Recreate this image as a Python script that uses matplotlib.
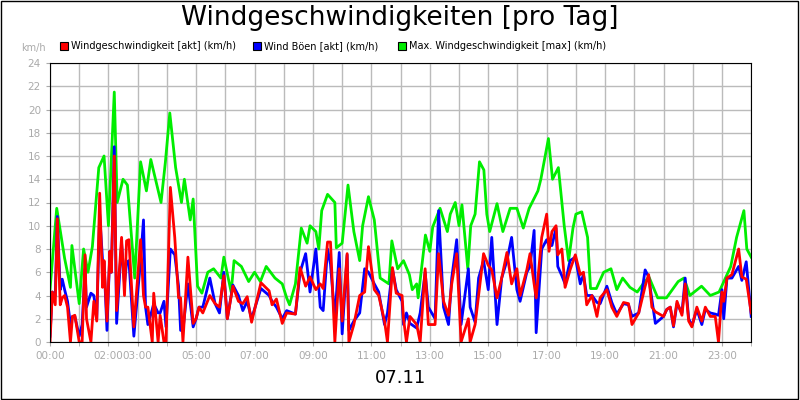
import matplotlib
matplotlib.use("Agg")
import matplotlib.pyplot as plt
from matplotlib.patches import Rectangle

# hours of day, max wind (green)
max_hours = [0.0, 0.23, 0.5, 0.7, 0.75, 1.0, 1.15, 1.3, 1.45, 1.67, 1.85, 2.0, 2.2, 2.3, 2.5, 2.65,
             2.9, 3.1, 3.3, 3.45, 3.8, 3.95, 4.1, 4.3, 4.5, 4.6, 4.8, 4.9, 5.05, 5.2, 5.4, 5.6,
             5.85, 5.95, 6.2, 6.3, 6.55, 6.8, 7.0, 7.2, 7.4, 7.7, 7.95, 8.1, 8.2, 8.4, 8.6, 8.8,
             8.9, 9.1, 9.2, 9.3, 9.5, 9.75, 9.8, 10.0, 10.2, 10.4, 10.6, 10.7, 10.9, 11.1, 11.2,
             11.3, 11.6, 11.7, 11.9, 12.1, 12.3, 12.4, 12.55, 12.6, 12.85, 13.0, 13.1, 13.35,
             13.6, 13.7, 13.87, 14.0, 14.1, 14.3, 14.4, 14.55, 14.7, 14.85, 14.95, 15.05, 15.3,
             15.5, 15.75, 15.98, 16.2, 16.4, 16.7, 16.8, 17.06, 17.2, 17.4, 17.6, 17.75, 17.9,
             18.0, 18.2, 18.4, 18.5, 18.7, 18.95, 19.2, 19.4, 19.6, 19.85, 20.1, 20.3, 20.5,
             20.8, 21.1, 21.5, 21.7, 21.9, 22.3, 22.6, 22.9, 23.3, 23.5, 23.75, 23.85, 24.0]
max_wind = [4.5, 11.5, 7.2, 4.7, 8.3, 3.3, 8.0, 6.0, 8.2, 15.0, 16.0, 10.0, 21.5, 12.0, 14.0, 13.5,
            5.5, 15.5, 13.0, 15.7, 12.0, 15.5, 19.7, 15.0, 12.0, 14.0, 10.5, 12.3, 4.8, 4.2, 6.0, 6.3,
            5.5, 7.3, 4.3, 7.0, 6.5, 5.2, 6.0, 5.2, 6.5, 5.5, 5.0, 3.8, 3.2, 5.0, 9.8, 8.5,
            10.0, 9.5, 8.0, 11.3, 12.7, 12.0, 8.1, 8.5, 13.5, 9.5, 7.0, 10.0, 12.5, 10.5, 8.0,
            5.5, 5.0, 8.7, 6.3, 7.0, 5.8, 4.5, 5.0, 3.8, 9.2, 7.8, 9.9, 11.5,
            9.5, 11.0, 12.0, 10.0, 11.8, 6.3, 10.0, 11.0, 15.5, 14.8, 11.0, 9.5, 11.9,
            9.5, 11.5, 11.5, 9.8, 11.5, 13.0, 14.0, 17.5, 14.0, 15.0, 10.0, 7.0, 9.8,
            11.0, 11.2, 9.0, 4.6, 4.6, 6.0, 6.3, 4.5, 5.5, 4.7, 4.3, 5.0, 5.6,
            3.8, 3.8, 5.2, 5.5, 4.0, 4.8, 4.0, 4.3, 6.5, 9.0, 11.3, 8.0, 7.3]

# hours of day, current wind (red) and gusts (blue)
cur_hours = [0.0, 0.08, 0.18, 0.25, 0.35, 0.42, 0.5, 0.6, 0.7, 0.77, 0.85, 1.0, 1.1, 1.2, 1.25,
             1.4, 1.5, 1.6, 1.7, 1.8, 1.85, 1.95, 2.05, 2.1, 2.2, 2.28, 2.45, 2.55, 2.62, 2.7,
             2.87, 3.1, 3.2, 3.27, 3.35, 3.5, 3.55, 3.7, 3.77, 3.9, 3.97, 4.12, 4.27, 4.4, 4.47,
             4.55, 4.72, 4.9, 5.0, 5.1, 5.23, 5.47, 5.65, 5.8, 5.95, 6.07, 6.26, 6.45, 6.6, 6.75,
             6.9, 7.07, 7.22, 7.5, 7.6, 7.75, 7.95, 8.1, 8.4, 8.56, 8.75, 8.9, 9.1, 9.25, 9.35,
             9.5, 9.6, 9.75, 9.9, 10.0, 10.17, 10.23, 10.4, 10.6, 10.77, 10.9, 11.1, 11.25, 11.45,
             11.55, 11.72, 11.85, 12.05, 12.1, 12.2, 12.32, 12.55, 12.67, 12.84, 12.95, 13.18,
             13.3, 13.47, 13.64, 13.75, 13.92, 14.07, 14.32, 14.38, 14.55, 14.67, 14.84, 15.0,
             15.12, 15.3, 15.46, 15.64, 15.8, 15.98, 16.09, 16.32, 16.43, 16.57, 16.64, 16.83,
             17.0, 17.08, 17.18, 17.32, 17.38, 17.52, 17.63, 17.8, 17.98, 18.15, 18.26, 18.37,
             18.55, 18.72, 18.83, 19.06, 19.23, 19.4, 19.63, 19.8, 19.92, 20.15, 20.37, 20.49,
             20.6, 20.72, 21.0, 21.11, 21.23, 21.34, 21.46, 21.63, 21.74, 21.86, 21.97, 22.14,
             22.31, 22.43, 22.6, 22.77, 22.88, 23.0, 23.06, 23.17, 23.34, 23.57, 23.68, 23.83, 24.0]
cur_wind = [0, 4.3, 3.2, 10.6, 3.2, 3.8, 4, 3, 0, 2.2, 2.3, 0, 0, 7.5, 2,
            0, 3.5, 1.8, 12.8, 4.7, 7, 1.8, 7.8, 6, 16, 2.7, 9, 4, 8.7, 8.8,
            1.3, 8.8, 4, 3, 3, 0, 4.2, 0, 2.3, 0, 0, 13.3, 9, 3.8, 3.8,
            0, 7.3, 1.6, 2, 3, 2.5, 4, 3.3, 3, 5.7, 2, 4.8, 3.5, 3.3, 3.9,
            1.7, 3.5, 5.1, 4.4, 3.2, 3.7, 1.6, 2.5, 2.4, 6.4, 4.8, 5.6, 4.5, 5, 4.6,
            8.6, 8.6, 0, 6.3, 1.8, 7.6, 0, 1.5, 4, 4.3, 8.2, 4.5, 4, 1.8,
            0, 6.4, 4.2, 4, 2, 0, 2.2, 1.5, 0, 6.3, 1.5, 1.5,
            7.6, 3.5, 2.3, 5, 7.6, 0, 2, 0, 1.5, 4, 7.6, 6.6,
            6.2, 3.8, 5.5, 7.7, 5, 6.3, 4, 6.2, 7.6, 5, 3.8, 9,
            11, 7.8, 9.5, 10, 7.5, 8, 4.7, 6.2, 7.5, 5.8, 6, 3.2,
            4, 2.2, 3.8, 4.5, 3, 2.2, 3.4, 3.3, 1.5, 2.5, 4.8, 5.8,
            3, 2.6, 2.2, 2.8, 3, 1.4, 3.5, 2.3, 5, 1.8, 1.3, 3,
            1.8, 3, 2.2, 2.2, 0, 4.3, 3.5, 5.5, 5.8, 8, 5.6, 5.4, 2.5]
gust_wind = [0.5, 4.3, 4, 10.8, 4.5, 5.4, 4.5, 3.5, 1.5, 2.2, 2.2, 0.5, 1.5, 6.3, 3,
             4.2, 4, 2, 11, 7, 6.8, 1, 7.8, 6, 16.8, 1.6, 8.5, 5, 6.8, 7,
             0.5, 7, 10.5, 3, 1.5, 2.8, 3.3, 2.5, 2.5, 3.5, 1.3, 8, 7.5, 4.8, 1,
             1, 5, 1.3, 2, 3, 3, 5.5, 3.3, 2.5, 6, 2, 4.9, 4, 2.7, 3.5,
             2, 3.4, 4.6, 4, 3.5, 3, 2, 2.7, 2.4, 6, 7.6, 4.3, 8, 3, 2.7,
             8, 6.7, 2, 7.7, 0.7, 7.5, 1, 1.8, 2.5, 6.3, 6, 5, 4.3, 1.5,
             2.5, 6.3, 4.5, 3.5, 1.5, 2.5, 1.6, 1.2, 2.5, 6, 3, 2,
             11.3, 3, 1.5, 5.5, 8.8, 1.5, 6.3, 3, 1.7, 5.5, 7, 4.5,
             9, 1.5, 5.5, 7, 9, 4.5, 3.5, 6, 6.5, 9.6, 0.8, 8,
             8.8, 8.3, 8.3, 9.8, 6.5, 5.7, 5, 7, 7.3, 5, 5.8, 4,
             4, 3.4, 3.3, 4.8, 3.4, 2.4, 3.3, 3.2, 2.2, 2.5, 6.2, 5.6,
             3.7, 1.6, 2.2, 2.8, 3, 1.3, 3.3, 2.5, 5.5, 2, 1.4, 2.8,
             1.5, 2.8, 2.5, 2.4, 2.3, 4.5, 2, 5.5, 5.5, 6.5, 5.3, 6.9, 2.2]

tick_hours = [0, 2, 3, 5, 7, 9, 11, 13, 15, 17, 19, 21, 23]
tick_labels = ["00:00", "02:00", "03:00", "05:00", "07:00", "09:00", "11:00",
               "13:00", "15:00", "17:00", "19:00", "21:00", "23:00"]
labels = ["Windgeschwindigkeit [akt] (km/h)", "Wind Böen [akt] (km/h)",
          "Max. Windgeschwindigkeit [max] (km/h)"]
colors = ["#ff0000", "#0000ff", "#00ee00"]

fig = plt.figure(figsize=(8, 4), dpi=100)
fig.patch.set_facecolor("white")
fig.add_artist(Rectangle((0.001, 0.002), 0.997, 0.995, transform=fig.transFigure,
                         fill=False, edgecolor="black", lw=1))
ax = fig.add_axes([0.0625, 0.145, 0.8765, 0.6975])

ax.plot(max_hours, max_wind, color=colors[2], lw=2)
ax.plot(cur_hours, gust_wind, color=colors[1], lw=2)
ax.plot(cur_hours, cur_wind, color=colors[0], lw=2)

ax.set_xlim(0, 24)
ax.set_ylim(0, 24)
ax.set_yticks(range(0, 25, 2))
ax.set_xticks(range(0, 25), minor=True)
ax.set_xticks(tick_hours)
ax.set_xticklabels(tick_labels)
ax.grid(True, which="both", color="#bbbbbb", lw=1)
ax.tick_params(axis="both", which="both", colors="#aaaaaa", labelsize=7.5, length=3)
ax.tick_params(axis="x", which="minor", length=3)
for s in ax.spines.values():
    s.set_color("black")

fig.text(0.5, 0.955, "Windgeschwindigkeiten [pro Tag]", ha="center", va="center", fontsize=19)
fig.text(0.042, 0.88, "km/h", ha="center", va="center", fontsize=7, color="#aaaaaa")
fig.text(0.5, 0.055, "07.11", ha="center", va="center", fontsize=13)

leg_x = [0.075, 0.316, 0.497]
for x, lab, c in zip(leg_x, labels, colors):
    fig.add_artist(Rectangle((x, 0.875), 0.01, 0.02, transform=fig.transFigure,
                             facecolor=c, edgecolor="black", lw=0.8))
    fig.text(x + 0.014, 0.886, lab, va="center", fontsize=7)

fig.savefig("out.png", dpi=100)
